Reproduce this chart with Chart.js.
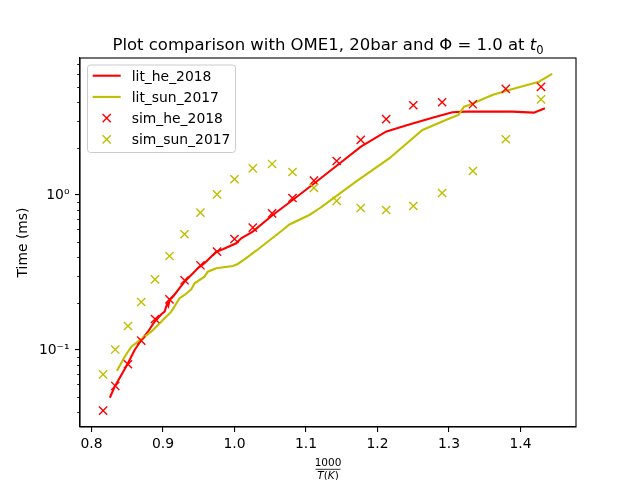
<!DOCTYPE html>
<html><head><meta charset="utf-8">
<script src="https://cdn.jsdelivr.net/npm/chart.js@4.4.0/dist/chart.umd.min.js"></script>
<style>html,body{margin:0;padding:0;background:#fff;}canvas{display:block;}</style>
</head><body>
<canvas id="c" width="640" height="480"></canvas>
<script>
// ---- data ----
const simX = [0.8163, 0.8333, 0.8511, 0.8696, 0.8889, 0.9091, 0.9302, 0.9524, 0.9756, 1.0, 1.0256, 1.0526, 1.0811, 1.1111, 1.1429, 1.1765, 1.2121, 1.25, 1.2903, 1.3333, 1.3793, 1.4286];
const simHe = [0.0406, 0.0586, 0.0809, 0.1148, 0.1585, 0.2124, 0.2817, 0.352, 0.4306, 0.520, 0.615, 0.762, 0.956, 1.237, 1.657, 2.264, 3.083, 3.791, 3.964, 3.847, 4.83, 4.975];
const simSun = [0.0697, 0.1007, 0.1428, 0.2040, 0.2858, 0.404, 0.558, 0.769, 1.010, 1.263, 1.483, 1.585, 1.407, 1.110, 0.915, 0.824, 0.800, 0.849, 1.030, 1.428, 2.288, 4.143];
const litHeX = [0.8257, 0.8325, 0.8511, 0.8604, 0.8698, 0.8790, 0.8883, 0.8981, 0.9023, 0.9060, 0.9075, 0.9093, 0.9139, 0.9302, 0.9488, 0.9581, 0.9745, 0.9837, 1.0024, 1.0094, 1.0255, 1.0535, 1.0814, 1.1117, 1.1442, 1.1768, 1.2117, 1.2396, 1.2768, 1.3047, 1.3234, 1.3884, 1.4187, 1.4341];
const litHeY = [0.0492, 0.058, 0.0821, 0.1, 0.116, 0.1312, 0.1523, 0.1707, 0.1767, 0.2000, 0.1930, 0.2102, 0.2207, 0.2759, 0.3366, 0.3626, 0.4306, 0.4463, 0.488, 0.5255, 0.580, 0.743, 0.928, 1.190, 1.562, 2.049, 2.561, 2.809, 3.153, 3.417, 3.447, 3.447, 3.396, 3.626];
const litSunX = [0.8357, 0.8465, 0.8558, 0.8650, 0.8744, 0.8837, 0.8930, 0.9023, 0.9117, 0.9232, 0.9302, 0.9396, 0.9442, 0.9581, 0.9627, 0.9745, 0.9976, 1.0046, 1.0140, 1.0303, 1.0674, 1.0768, 1.1047, 1.1186, 1.1256, 1.1698, 1.2163, 1.2628, 1.2955, 1.3131, 1.3210, 1.3280, 1.3605, 1.3838, 1.4256, 1.4442];
const litSunY = [0.0735, 0.0905, 0.1050, 0.1131, 0.1219, 0.1312, 0.1450, 0.1602, 0.1767, 0.2157, 0.2264, 0.2463, 0.2693, 0.2971, 0.3199, 0.3366, 0.3483, 0.3588, 0.3847, 0.437, 0.594, 0.645, 0.743, 0.818, 0.862, 1.218, 1.72, 2.627, 3.047, 3.282, 3.713, 3.807, 4.418, 4.758, 5.383, 6.035];
const xTicks = [0.8, 0.9, 1.0, 1.1, 1.2, 1.3, 1.4];
const yMajor = [0.1, 1];
const yMinor = [0.04, 0.05, 0.06, 0.07, 0.08, 0.09, 0.2, 0.3, 0.4, 0.5, 0.6, 0.7, 0.8, 0.9, 2, 3, 4, 5, 6, 7];
const seriesNames = ['lit_he_2018', 'lit_sun_2017', 'sim_he_2018', 'sim_sun_2017'];
const RED = '#ff0000', YEL = '#bfbf00';
const FONT = '"DejaVu Sans", sans-serif';

const pts = (xs, ys) => xs.map((x, i) => ({x, y: ys[i]}));

const decor = {
  id: 'decor',
  afterDraw(chart) {
    const ctx = chart.ctx, a = chart.chartArea, ys = chart.scales.y;
    ctx.save();
    // frame
    ctx.strokeStyle = '#000'; ctx.lineWidth = 1.1;
    ctx.strokeRect(a.left, a.top, a.right - a.left, a.bottom - a.top);
    // minor ticks
    ctx.lineWidth = 0.9;
    yMinor.forEach(v => {
      const p = Math.round(ys.getPixelForValue(v)) + 0.5;
      ctx.beginPath(); ctx.moveTo(a.left, p); ctx.lineTo(a.left - 2.8, p); ctx.stroke();
    });
    // title
    const fs = 16.5;
    const segs = [
      {t: 'Plot comparison with OME1, 20bar and Φ = 1.0 at ', f: fs + 'px ' + FONT, dy: 0},
      {t: 't', f: 'oblique ' + fs + 'px ' + FONT, dy: 0},
      {t: '0', f: (fs * 0.7).toFixed(1) + 'px ' + FONT, dy: fs * 0.22}
    ];
    let w = 0;
    segs.forEach(s => { ctx.font = s.f; s.w = ctx.measureText(s.t).width; w += s.w; });
    let x = (a.left + a.right) / 2 - w / 2;
    ctx.fillStyle = '#000'; ctx.textBaseline = 'alphabetic'; ctx.textAlign = 'left';
    segs.forEach(s => { ctx.font = s.f; ctx.fillText(s.t, x, 50 + s.dy); x += s.w; });
    // x-axis label: fraction 1000 / T(K)
    const cx = (a.left + a.right) / 2, ff = 10.5;
    ctx.font = ff + 'px ' + FONT; ctx.textAlign = 'center';
    ctx.fillText('1000', cx, 466);
    ctx.lineWidth = 0.8;
    ctx.beginPath(); ctx.moveTo(cx - 12.5, 469.3); ctx.lineTo(cx + 12.5, 469.3); ctx.stroke();
    const dsegs = [
      {t: 'T', f: 'oblique ' + ff + 'px ' + FONT},
      {t: '(', f: ff + 'px ' + FONT},
      {t: 'K', f: 'oblique ' + ff + 'px ' + FONT},
      {t: ')', f: ff + 'px ' + FONT}
    ];
    w = 0; dsegs.forEach(s => { ctx.font = s.f; s.w = ctx.measureText(s.t).width; w += s.w; });
    x = cx - w / 2; ctx.textAlign = 'left';
    dsegs.forEach(s => { ctx.font = s.f; ctx.fillText(s.t, x, 478.5); x += s.w; });
    // legend
    const lx = 87.5, ly = 65, lw = 148, lh = 87.5, r = 3;
    ctx.beginPath();
    ctx.moveTo(lx + r, ly); ctx.lineTo(lx + lw - r, ly); ctx.arcTo(lx + lw, ly, lx + lw, ly + r, r);
    ctx.lineTo(lx + lw, ly + lh - r); ctx.arcTo(lx + lw, ly + lh, lx + lw - r, ly + lh, r);
    ctx.lineTo(lx + r, ly + lh); ctx.arcTo(lx, ly + lh, lx, ly + lh - r, r);
    ctx.lineTo(lx, ly + r); ctx.arcTo(lx, ly, lx + r, ly, r); ctx.closePath();
    ctx.fillStyle = 'rgba(255,255,255,0.8)'; ctx.fill();
    ctx.strokeStyle = '#cccccc'; ctx.lineWidth = 1; ctx.stroke();
    const rows = [75.7, 96.9, 118.1, 139.3];
    const cols = [RED, YEL, RED, YEL];
    ctx.font = '13.9px ' + FONT; ctx.textAlign = 'left';
    rows.forEach((yy, i) => {
      ctx.strokeStyle = cols[i];
      if (i < 2) {
        ctx.lineWidth = 2.1;
        ctx.beginPath(); ctx.moveTo(92.7, yy); ctx.lineTo(120.7, yy); ctx.stroke();
      } else {
        ctx.lineWidth = 1.4; const h = 4.1, cxm = 106.7;
        ctx.beginPath();
        ctx.moveTo(cxm - h, yy - h); ctx.lineTo(cxm + h, yy + h);
        ctx.moveTo(cxm - h, yy + h); ctx.lineTo(cxm + h, yy - h); ctx.stroke();
      }
      ctx.fillStyle = '#000';
      ctx.fillText(seriesNames[i], 131.7, yy + 5);
    });
    ctx.restore();
  }
};

new Chart(document.getElementById('c'), {
  type: 'scatter',
  data: {
    datasets: [
      {label: seriesNames[0], data: pts(litHeX, litHeY), showLine: true, borderColor: RED, backgroundColor: RED, borderWidth: 2.1, pointRadius: 0, tension: 0, order: 4},
      {label: seriesNames[1], data: pts(litSunX, litSunY), showLine: true, borderColor: YEL, backgroundColor: YEL, borderWidth: 2.1, pointRadius: 0, tension: 0, order: 3},
      {label: seriesNames[2], data: pts(simX, simHe), showLine: false, pointStyle: 'crossRot', pointRadius: 5.8, borderColor: RED, pointBorderWidth: 1.4, order: 2},
      {label: seriesNames[3], data: pts(simX, simSun), showLine: false, pointStyle: 'crossRot', pointRadius: 5.8, borderColor: YEL, pointBorderWidth: 1.4, order: 1}
    ]
  },
  options: {
    responsive: false, animation: false, devicePixelRatio: 1,
    layout: {padding: {top: 58, right: 64, left: 0, bottom: 0}},
    plugins: {legend: {display: false}, tooltip: {enabled: false}, title: {display: false}},
    scales: {
      x: {
        type: 'linear', min: 0.784, max: 1.4775,
        afterBuildTicks: s => { s.ticks = xTicks.map(v => ({value: v})); },
        afterFit: s => { s.height = 53; },
        grid: {drawOnChartArea: false, tickLength: 5, tickColor: '#000', lineWidth: 1.1},
        border: {display: true, color: '#000', width: 1.1},
        ticks: {color: '#000', font: {family: FONT, size: 13.9}, padding: 4, maxRotation: 0, callback: v => v.toFixed(1)}
      },
      y: {
        type: 'logarithmic', min: 0.03186, max: 7.65,
        afterBuildTicks: s => { s.ticks = yMajor.map(v => ({value: v})); },
        afterFit: s => { s.width = 80; },
        grid: {drawOnChartArea: false, tickLength: 5, tickColor: '#000', lineWidth: 1.1},
        border: {display: true, color: '#000', width: 1.1},
        ticks: {color: '#000', font: {family: FONT, size: 13.9}, padding: 5.5, callback: v => (v === 1 ? '10⁰' : '10⁻¹')},
        title: {display: true, text: 'Time (ms)', color: '#000', font: {family: FONT, size: 13.9}, padding: {top: 15.4, bottom: 0}}
      }
    }
  },
  plugins: [decor]
});
</script>
</body></html>
